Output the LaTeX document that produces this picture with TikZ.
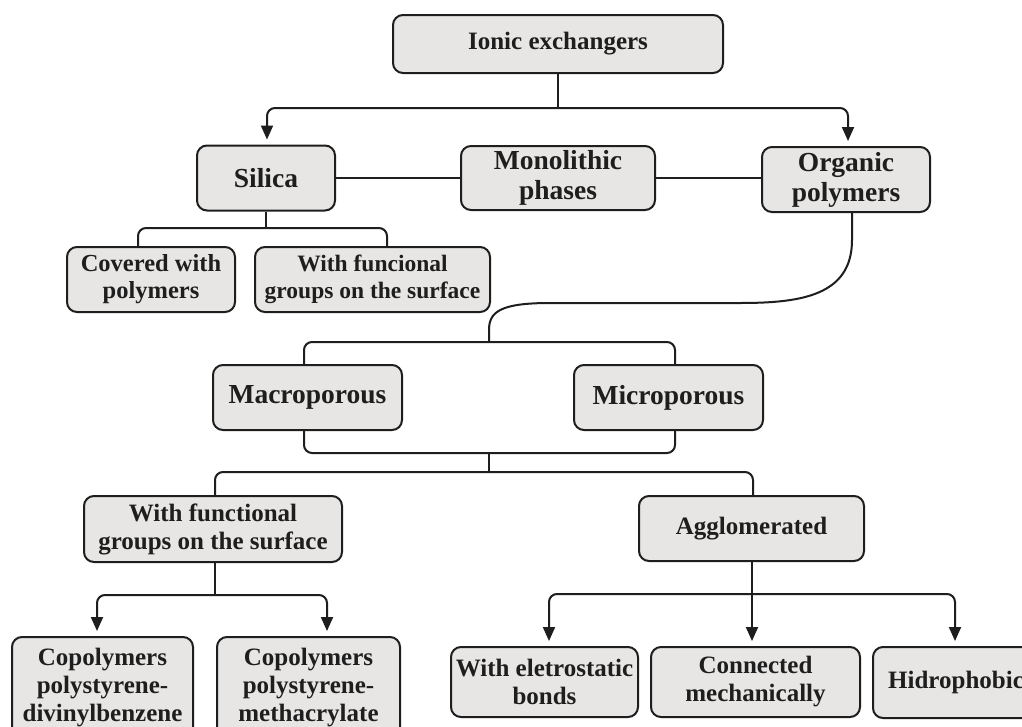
\documentclass[tikz,border=0pt]{standalone}
\usepackage{fontspec}
\setmainfont{Liberation Serif}
\usetikzlibrary{arrows.meta}
\definecolor{boxfill}{HTML}{E7E6E4}
\definecolor{ink}{HTML}{1E1E1E}
\begin{document}
\begin{tikzpicture}[x=1pt,y=-1pt,
  box/.style={draw=ink, fill=boxfill, line width=2pt, rounded corners=10pt, align=center, text=ink,
    font=\bfseries\fontsize{25}{28}\selectfont, inner sep=0pt},
  big/.style={font=\bfseries\fontsize{27.5}{30}\selectfont},
  mid/.style={font=\bfseries\fontsize{24.5}{27}\selectfont},
  small/.style={font=\bfseries\fontsize{23.5}{27}\selectfont},
  conn/.style={draw=ink, line width=2pt, rounded corners=8pt},
  arr/.style={conn, -{Triangle[length=14pt,width=12pt]}, shorten >=5pt}]
\useasboundingbox (0,0) rectangle (1022,726);
\fill[white] (0,0) rectangle (1022,726);

% nodes
\node[box, minimum width=330pt, minimum height=58pt] (ionic) at (558,44) {Ionic exchangers};
\node[box, big, minimum width=138pt, minimum height=65pt] (silica) at (266,178) {Silica};
\node[box, big, minimum width=194pt, minimum height=64pt] (mono) at (558,178) {Monolithic\\phases};
\node[box, big, minimum width=168pt, minimum height=65pt] (organic) at (846,179.5) {Organic\\polymers};
\node[box, mid, minimum width=168pt, minimum height=65pt] (covered) at (151,279.5) {Covered with\\polymers};
\node[box, small, minimum width=235pt, minimum height=65pt] (wfga) at (372.5,279.5) {With funcional\\groups on the surface};
\node[box, big, minimum width=189pt, minimum height=65pt] (macro) at (307.5,397.5) {Macroporous};
\node[box, big, minimum width=189pt, minimum height=65pt] (micro) at (668.5,397.5) {Microporous};
\node[box, minimum width=258pt, minimum height=66pt] (wfgb) at (213,529) {With functional\\groups on the surface};
\node[box, minimum width=225pt, minimum height=65pt] (agglo) at (751.5,528.5) {Agglomerated};
\node[box, minimum width=181pt, minimum height=102pt] (copa) at (102.5,688) {Copolymers\\polystyrene-\\divinylbenzene};
\node[box, minimum width=183pt, minimum height=102pt] (copb) at (308.5,688) {Copolymers\\polystyrene-\\methacrylate};
\node[box, minimum width=187pt, minimum height=70pt] (elec) at (544.5,682) {With eletrostatic\\bonds};
\node[box, minimum width=209pt, minimum height=70pt] (mech) at (755.5,682) {Connected\\mechanically};
\node[box, minimum width=166pt, minimum height=71pt] (hidro) at (956,682.5) {Hidrophobic};

% junction coordinates
\coordinate (ja) at (558,108);
\coordinate (jb) at (266,228);
\coordinate (ba) at (489,342);
\coordinate (bb) at (489,453);
\coordinate (bc) at (489,472);
\coordinate (bd) at (215,595);
\coordinate (be) at (752,594);

% top level
\draw[conn] (ionic.south) -- (ja);
\draw[arr] (ja) -| ([xshift=1pt]silica.north);
\draw[arr] (ja) -| ([xshift=2pt]organic.north);
\draw[conn] (silica.east) -- (silica.east -| mono.west);
\draw[conn] (mono.east) -- (mono.east -| organic.west);

% silica children
\draw[conn] (silica.south) -- (jb);
\draw[conn] (jb) -| ([xshift=-13pt]covered.north);
\draw[conn] (jb) -| ([xshift=14.5pt]wfga.north);

% organic curve
\draw[conn, rounded corners=0pt] ([xshift=6pt]organic.south) -- (852,240)
  .. controls (852,296) and (800,303) .. (740,303) -- (550,303)
  .. controls (500,303) and (489,312) .. (489,330) -- (ba);

% brackets
\draw[conn] ([xshift=-3.5pt]macro.north) |- (ba) -| ([xshift=6.5pt]micro.north);
\draw[conn] ([xshift=-3.5pt]macro.south) |- (bb) -| ([xshift=6.5pt]micro.south);
\draw[conn] (bb) -- (bc);
\draw[conn] (bc) -| ([xshift=2pt]wfgb.north);
\draw[conn] (bc) -| ([xshift=1.5pt]agglo.north);

% lower left
\draw[conn] ([xshift=2pt]wfgb.south) -- (bd);
\draw[arr] (bd) -| ([xshift=-5.5pt]copa.north);
\draw[arr] (bd) -| ([xshift=18.5pt]copb.north);

% lower right
\draw[arr] ([xshift=0.5pt]agglo.south) -- ([xshift=0.5pt]agglo.south |- mech.north);
\draw[arr] (be) -| ([xshift=4.5pt]elec.north);
\draw[arr] (be) -| ([xshift=-1pt]hidro.north);
\end{tikzpicture}
\end{document}
